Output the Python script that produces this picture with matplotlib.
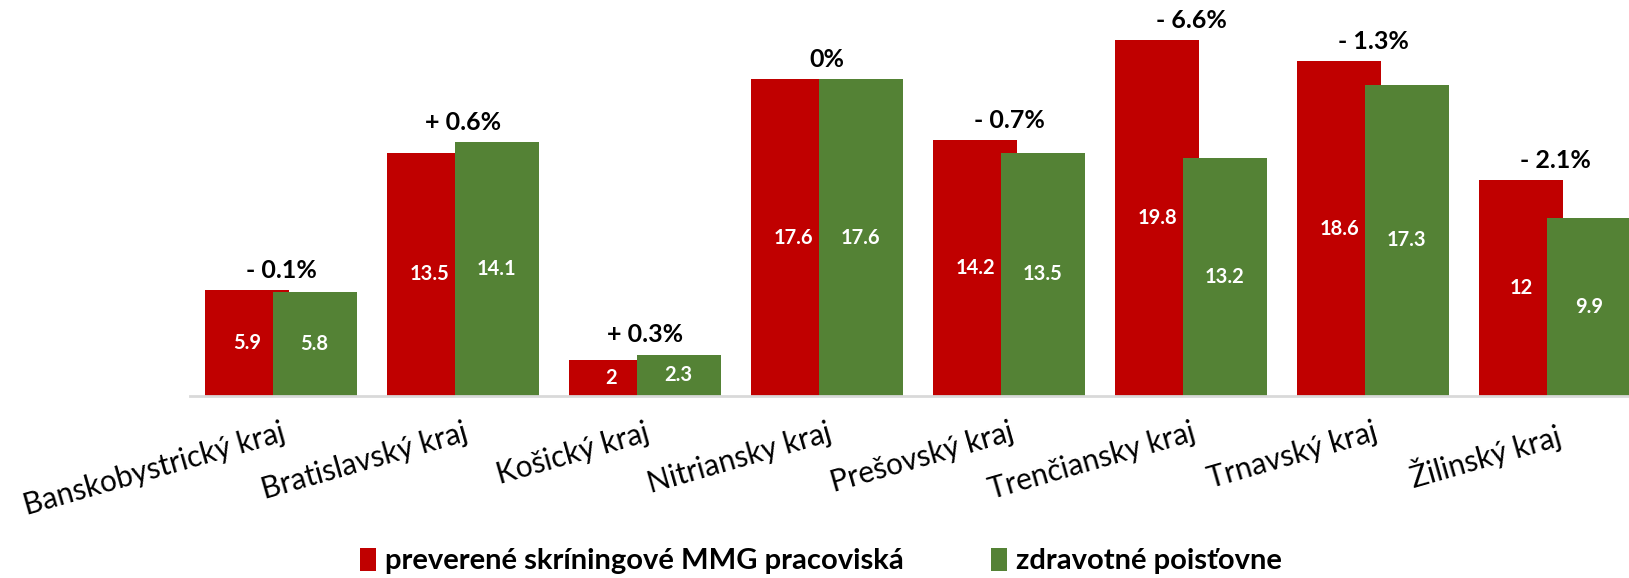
import matplotlib.pyplot as plt
import numpy as np

kraje = ["Banskobystrický kraj", "Bratislavský kraj", "Košický kraj", "Nitriansky kraj",
         "Prešovský kraj", "Trenčiansky kraj", "Trnavský kraj", "Žilinský kraj"]
pracoviska = [5.9, 13.5, 2, 17.6, 14.2, 19.8, 18.6, 12]
poistovne = [5.8, 14.1, 2.3, 17.6, 13.5, 13.2, 17.3, 9.9]
rozdiel = ["- 0.1%", "+ 0.6%", "+ 0.3%", "0%", "- 0.7%", "- 6.6%", "- 1.3%", "- 2.1%"]

plt.rcParams['font.family'] = ['Lato', 'DejaVu Sans']

W, H = 1629, 578
fig = plt.figure(figsize=(W / 100, H / 100), dpi=100)
# os x presahuje za pravy okraj obrazku (ako v originale)
ax = fig.add_axes([190 / W, 182 / H, 1456 / W, 21.5 * 18 / H])

x = np.arange(len(kraje))
sirka = 0.46
posun = 0.185
cervena = "#c00000"
zelena = "#548235"

b1 = ax.bar(x - posun, pracoviska, sirka, color=cervena, label="preverené skríningové MMG pracoviská")
b2 = ax.bar(x + posun, poistovne, sirka, color=zelena, label="zdravotné poisťovne")

for bars in (b1, b2):
    for b in bars:
        h = b.get_height()
        ax.text(b.get_x() + b.get_width() / 2, h / 2, f"{h:g}", ha="center", va="center",
                color="white", fontsize=14.5, fontweight="bold")

for i, t in enumerate(rozdiel):
    ax.text(x[i], max(pracoviska[i], poistovne[i]) + 0.45, t, ha="center", va="bottom",
            fontsize=18, fontweight="bold", color="black")

ax.set_xlim(-0.5, 7.5)
ax.set_ylim(0, 21.5)
ax.set_yticks([])
for s in ("top", "right", "left"):
    ax.spines[s].set_visible(False)
ax.spines["bottom"].set_color("#d9d9d9")
ax.spines["bottom"].set_linewidth(2)
ax.tick_params(axis="x", length=0, pad=16)
ax.set_xticks(x)
ax.set_xticklabels(kraje, rotation=16, ha="right", rotation_mode="anchor", fontsize=21.5)

fig.legend(handles=[b1, b2], loc="center", bbox_to_anchor=(821 / W, 1 - 561 / H), ncol=2,
           frameon=False, prop={"weight": "bold", "size": 21}, handlelength=0.55,
           handleheight=0.85, handletextpad=0.3, columnspacing=3.0)

fig.savefig("out.png", dpi=100)
